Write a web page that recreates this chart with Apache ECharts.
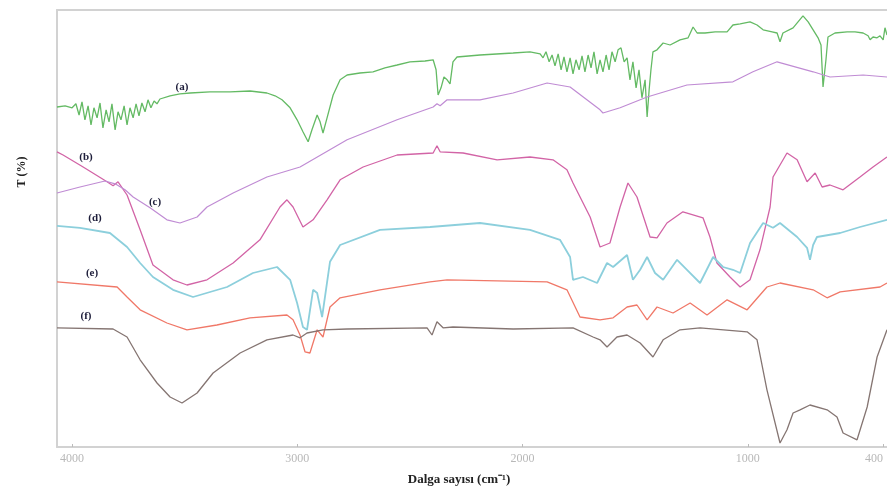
<!DOCTYPE html>
<html>
<head>
<meta charset="utf-8">
<script src="https://cdn.jsdelivr.net/npm/echarts@6/dist/echarts.min.js"></script>
<style>
  html, body { margin: 0; padding: 0; background: #fff; }
  #chart { width: 887px; height: 492px; }
</style>
</head>
<body>
<div id="chart"></div>
<script>
// tick labels on the wavenumber axis
const xTicks = [4000, 3000, 2000, 1000, 400]

// [wavenumber (cm-1), T (offset, a.u.)]
const curveA = [
  [4067, 85], [4031, 85.3], [4000, 84.8], [3983, 85.8], [3969, 83], [3956, 86.3], [3943, 81.8], [3929, 85.3],
  [3916, 80.5], [3903, 84.8], [3889, 82.3], [3876, 86], [3863, 79.8], [3849, 84.3], [3836, 81.3], [3823, 85.8],
  [3809, 79.3], [3796, 83.8], [3783, 81.8], [3769, 85.3], [3756, 80.5], [3743, 84.8], [3729, 82.3], [3716, 85.8],
  [3703, 82.8], [3690, 86], [3676, 83.8], [3663, 86.8], [3650, 84.8], [3636, 86.5], [3623, 85.8], [3610, 87],
  [3565, 87.8], [3521, 88.3], [3476, 88.5], [3388, 88.8], [3299, 88.8], [3210, 89], [3135, 88.5], [3099, 87.8],
  [3068, 86.8], [3032, 84.8], [3001, 81.8], [2975, 78.8], [2952, 76.3], [2935, 79.3], [2912, 83], [2899, 81.3],
  [2886, 78.5], [2868, 82.3], [2841, 88], [2810, 91.8], [2779, 93], [2722, 93.5], [2664, 93.8], [2611, 94.8],
  [2557, 95.5], [2500, 96.3], [2433, 96.5], [2397, 96.8], [2384, 94.3], [2375, 88], [2362, 89.8], [2349, 92.5],
  [2335, 91.8], [2322, 90.8], [2309, 96.3], [2291, 97.5], [2189, 98], [2042, 98.5], [1967, 98.8],
  [1922, 98.3], [1909, 97.3], [1896, 98.8], [1882, 96.3], [1869, 98], [1856, 95.3], [1842, 98.3], [1829, 94.3],
  [1816, 97.5], [1803, 93.8], [1789, 97.3], [1776, 93.3], [1763, 96.8], [1749, 94.3], [1736, 97.8], [1723, 93.8],
  [1709, 98], [1696, 94.8], [1683, 98.8], [1669, 93.3], [1656, 96.8], [1643, 93.8], [1629, 98], [1616, 94.3],
  [1603, 98.8], [1589, 96.3], [1576, 99.3], [1563, 99.8], [1549, 96.3], [1536, 97.3], [1523, 91.8], [1510, 96.3],
  [1496, 89.8], [1483, 94.3], [1470, 87.3], [1456, 91.8], [1447, 82.5], [1438, 89.3], [1430, 94.3], [1421, 98.8],
  [1403, 99.3], [1376, 101], [1345, 100.5], [1301, 101.8], [1265, 102.3], [1243, 105], [1225, 103.5], [1190, 103.5],
  [1145, 103.8], [1092, 103.8], [1066, 105.5], [1034, 105.8], [990, 106.3], [959, 105.5], [932, 104.3], [892, 103.8],
  [870, 103.5], [857, 101.3], [844, 103.5], [799, 104.8], [755, 107.8], [732, 106.3], [710, 104.3], [688, 102.3],
  [675, 100.5], [666, 90], [653, 96.8], [644, 102.5], [613, 103.5], [559, 103.8], [524, 103.8], [488, 103.5],
  [466, 102.8], [457, 101.8], [444, 102.5], [426, 102.3], [413, 102.8], [399, 101.8], [391, 104.8], [382, 103]
]

const curveB = [
  [4067, 73.8], [4040, 73], [3951, 70], [3845, 66.3], [3818, 65.3], [3796, 66.3], [3756, 63], [3698, 54.3],
  [3641, 45.5], [3552, 41.8], [3490, 40.5], [3401, 41.8], [3285, 46], [3166, 51.8], [3077, 60], [3046, 61.8],
  [3019, 60], [2975, 55], [2930, 56.8], [2868, 61.8], [2810, 66.8], [2708, 70], [2557, 73], [2397, 73.5],
  [2380, 75.3], [2366, 73.8], [2264, 73.5], [2113, 71.8], [1967, 72.5], [1865, 71.8], [1803, 69.3], [1776, 66],
  [1700, 57.5], [1656, 50], [1612, 51], [1567, 60], [1532, 66], [1492, 62.5], [1434, 52.5], [1403, 52.3],
  [1359, 56], [1288, 58.8], [1199, 57.3], [1168, 52.5], [1137, 46], [1079, 42.5], [1034, 40], [990, 41.8],
  [946, 49.3], [901, 60], [888, 67.5], [826, 73.5], [781, 71.8], [737, 66.3], [701, 68.5], [670, 65],
  [635, 65.5], [577, 64.3], [502, 67.5], [444, 70], [382, 72.5]
]

const curveC = [
  [4067, 63.5], [3965, 65], [3854, 66.5], [3809, 65.8], [3765, 64.3], [3729, 62.5], [3654, 59.8], [3579, 56.8],
  [3521, 56], [3445, 57.5], [3401, 60], [3285, 63.5], [3135, 67.5], [2988, 70], [2779, 76.8], [2557, 81.8],
  [2397, 85], [2380, 85.8], [2366, 85.3], [2335, 86.8], [2189, 86.8], [2042, 88.5], [1891, 91], [1789, 90],
  [1656, 84.3], [1643, 83.5], [1567, 84.8], [1447, 87.5], [1270, 90.5], [1066, 91.3], [977, 93.8], [870, 96.3],
  [710, 93.8], [635, 92.5], [488, 93], [382, 92.5]
]

const curveD = [
  [4067, 55.3], [3965, 54.8], [3832, 53.5], [3756, 50], [3698, 46], [3641, 42.5], [3552, 39.3], [3463, 37.5],
  [3312, 40], [3197, 43.5], [3090, 45], [3032, 41.8], [3001, 36], [2975, 30], [2957, 29.3], [2930, 39.3],
  [2912, 38.5], [2890, 32.5], [2855, 46.3], [2810, 50.5], [2633, 54.3], [2411, 55], [2189, 56], [1967, 54.3],
  [1834, 51.8], [1789, 47.5], [1776, 41.8], [1732, 42.5], [1669, 41], [1625, 46], [1598, 45], [1536, 48],
  [1510, 41.8], [1478, 44.3], [1447, 47.5], [1412, 43.5], [1376, 41.8], [1314, 46.8], [1270, 44.3], [1212, 41],
  [1154, 47.5], [1110, 45], [1066, 44.3], [1034, 43.5], [990, 51], [932, 56], [888, 54.8], [857, 56],
  [781, 52.5], [737, 49.8], [724, 46.8], [710, 50.5], [693, 52.5], [590, 53.5], [502, 55], [382, 56.8]
]

const curveE = [
  [4067, 41.3], [3800, 40], [3756, 37.5], [3698, 34.3], [3579, 31], [3490, 29.3], [3357, 30.5], [3210, 32.3],
  [3046, 33], [3019, 31.8], [2988, 28], [2966, 23.8], [2944, 23.5], [2912, 29.3], [2886, 27.5], [2855, 35],
  [2810, 37.3], [2633, 39.3], [2411, 41.3], [2335, 41.8], [1891, 41.3], [1803, 39.3], [1745, 32.5], [1656, 31.8],
  [1598, 32.3], [1536, 35], [1492, 35.5], [1447, 31.8], [1403, 35], [1332, 33.5], [1256, 36], [1181, 33],
  [1092, 36.8], [1003, 34.3], [915, 40], [857, 41], [710, 39.3], [648, 37.3], [590, 38.8], [413, 40], [382, 41]
]

const curveF = [
  [4067, 29.8], [3818, 29.5], [3756, 27.5], [3698, 21.8], [3623, 16], [3565, 12.5], [3512, 11], [3445, 13.5],
  [3374, 18.5], [3254, 23.5], [3135, 26.8], [3019, 28], [2988, 27.3], [2957, 28.5], [2886, 29.3], [2779, 29.5],
  [2424, 29.8], [2402, 28], [2380, 31.3], [2353, 29.8], [2309, 30], [2042, 29.5], [1776, 29.8], [1687, 27.5],
  [1656, 26.8], [1625, 25], [1581, 27.5], [1536, 28], [1478, 26], [1421, 22.5], [1376, 26.8], [1301, 29.3],
  [1212, 29.8], [1003, 28.8], [959, 26.8], [915, 14.3], [857, 1], [826, 4.3], [799, 8.5], [768, 9.3],
  [724, 10.5], [648, 9.3], [604, 7.5], [577, 3.5], [515, 1.8], [470, 10], [426, 22.5], [382, 29.3]
]

const seriesNames = ['(a)', '(b)', '(c)', '(d)', '(e)', '(f)']
const seriesData = [curveA, curveB, curveC, curveD, curveE, curveF]
const seriesColors = ['#64ba64', '#d264a6', '#c08cd4', '#8ccfdc', '#f07868', '#857572']
const seriesWidths = [1.3, 1.3, 1.2, 1.8, 1.3, 1.3]

const labelFont = 'bold 11px "Liberation Serif", serif'
const curveLabels = [
  { text : '(a)', x : 182, y : 87 },
  { text : '(b)', x : 86, y : 157 },
  { text : '(c)', x : 155, y : 202 },
  { text : '(d)', x : 95, y : 218 },
  { text : '(e)', x : 92, y : 273 },
  { text : '(f)', x : 86, y : 316 }
]

const frameLine = { show : true, lineStyle : { color : '#d2d2d2', width : 2 }}

const chart = echarts.init( document.getElementById( 'chart' ) )

chart.setOption( {
  animation : false,
  grid : {
    left : 57,
    top : 10,
    right : 0,
    bottom : 45,
    containLabel : false,
    outerBoundsMode : 'none'
  },
  xAxis : [
    {
      type : 'value',
      inverse : true,
      min : 382,
      max : 4067,
      axisLine : frameLine,
      axisTick : { show : true, customValues : xTicks, length : 3, inside : true, lineStyle : { color : '#bbb' }},
      axisLabel : {
        customValues : xTicks,
        formatter : v => String( v ),
        alignMaxLabel : 'right',
        color : '#b8b8b8',
        fontFamily : '"Liberation Serif", serif',
        fontSize : 12,
        margin : 6
      },
      splitLine : { show : false }
    },
    {
      // top frame line only
      type : 'value',
      position : 'top',
      inverse : true,
      min : 382,
      max : 4067,
      axisLine : frameLine,
      axisTick : { show : false },
      axisLabel : { show : false },
      splitLine : { show : false }
    }
  ],
  yAxis : {
    type : 'value',
    min : 0,
    max : 109.25,
    axisLine : frameLine,
    axisTick : { show : false },
    axisLabel : { show : false },
    splitLine : { show : false }
  },
  series : seriesData.map( ( data, i ) => ( {
    name : seriesNames[i],
    type : 'line',
    data : data,
    showSymbol : false,
    symbol : 'none',
    lineStyle : { color : seriesColors[i], width : seriesWidths[i] },
    z : 2
  } ) ),
  graphic : [
    ...curveLabels.map( l => ( {
      type : 'text',
      x : l.x,
      y : l.y,
      style : { text : l.text, font : labelFont, fill : '#1d1d3a', align : 'center', verticalAlign : 'middle' }
    } ) ),
    {
      type : 'text',
      x : 22,
      y : 172,
      rotation : Math.PI / 2,
      style : { text : 'T (%)', font : 'bold 12px "Liberation Serif", serif', fill : '#222', align : 'center', verticalAlign : 'middle' }
    },
    {
      type : 'text',
      x : 459,
      y : 480,
      style : { text : 'Dalga sayısı (cm⁻¹)', font : 'bold 13px "Liberation Serif", serif', fill : '#222', align : 'center', verticalAlign : 'middle' }
    }
  ]
} )
</script>
</body>
</html>
